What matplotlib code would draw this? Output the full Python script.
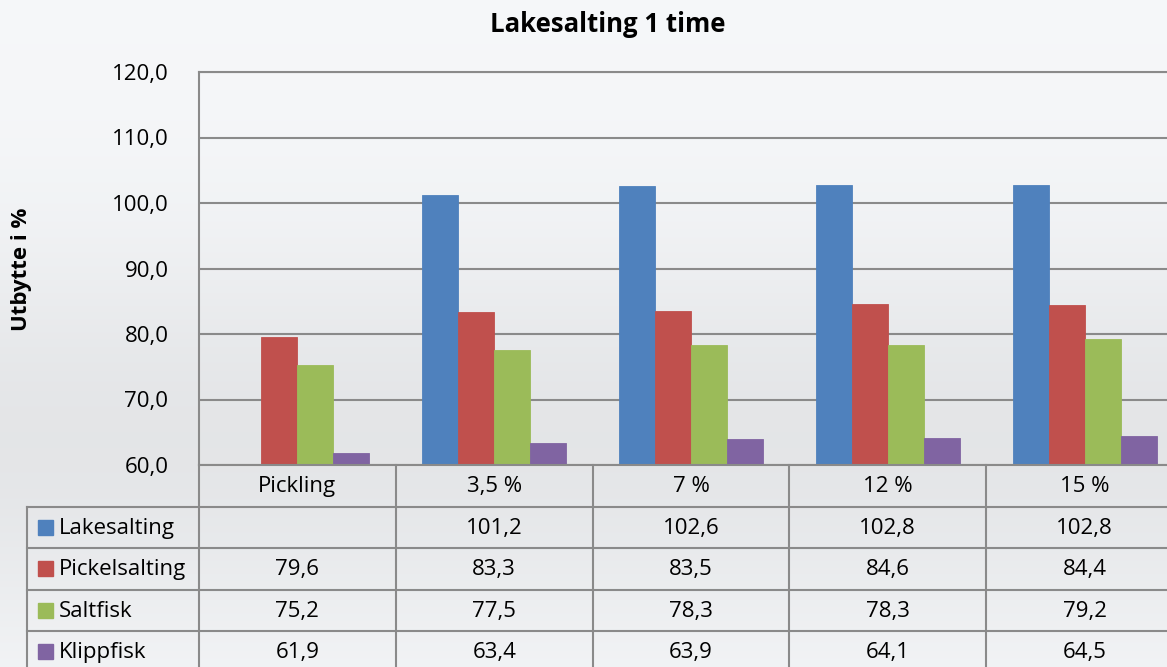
import numpy as np
import matplotlib.pyplot as plt
from matplotlib.patches import Rectangle

## data
categories = ['Pickling', '3,5 %', '7 %', '12 %', '15 %']
series_names = ['Lakesalting', 'Pickelsalting', 'Saltfisk', 'Klippfisk']
lakesalting = [np.nan, 101.2, 102.6, 102.8, 102.8]
pickelsalting = [79.6, 83.3, 83.5, 84.6, 84.4]
saltfisk = [75.2, 77.5, 78.3, 78.3, 79.2]
klippfisk = [61.9, 63.4, 63.9, 64.1, 64.5]
colors = ['#4F81BD', '#C0504D', '#9BBB59', '#8064A2']
yticks = [60, 70, 80, 90, 100, 110, 120]

values = [lakesalting, pickelsalting, saltfisk, klippfisk]

plt.rcParams['font.family'] = ['Open Sans', 'DejaVu Sans']

W, H = 1167, 667
fig = plt.figure(figsize=(W / 100, H / 100), dpi=100)

# soft grey background, lightest at the top, darkest a bit below the middle
bg = fig.add_axes([0, 0, 1, 1], zorder=-10)
grad = np.linspace(0, 1, 300)
shade = 0.972 - 0.07 * np.exp(-((grad - 0.66) / 0.3) ** 2)
img = np.stack([shade - 0.008, shade - 0.002, shade + 0.006], axis=-1)[:, None, :]
bg.imshow(np.clip(img, 0, 1), aspect='auto', extent=[0, 1, 0, 1])
bg.axis('off')

grid_col = '#8a8a8a'
x_right = 1183  # plot area runs past the right edge of the picture
ax = fig.add_axes([199 / W, 1 - 465 / H, (x_right - 199) / W, (465 - 72) / H])
ax.patch.set_alpha(0)

x = np.arange(len(categories))
bw = 0.183
for i, (vals, c) in enumerate(zip(values, colors)):
    ax.bar(x + (i - 1.5) * bw, np.array(vals) - 60, bw, bottom=60, color=c,
           edgecolor=c, linewidth=0.6, zorder=3)

ax.set_xlim(-0.5, 4.5)
ax.set_ylim(60, 120)
ax.set_yticks(yticks)
ax.set_yticklabels([('%.1f' % t).replace('.', ',') for t in yticks], fontsize=16)
ax.tick_params(axis='y', length=0, pad=22)
ax.set_xticks([])
ax.grid(axis='y', color=grid_col, linewidth=1.5, zorder=1)
for s in ['right', 'bottom']:
    ax.spines[s].set_visible(False)
for s in ['left', 'top']:
    ax.spines[s].set_color(grid_col)
    ax.spines[s].set_linewidth(1.5)

fig.text(608 / W, 1 - 25 / H, 'Lakesalting 1 time', ha='center', va='center',
         fontsize=18.5, fontweight='bold')
fig.text(22 / W, 1 - 269 / H, 'Utbytte i %', ha='center', va='center',
         rotation=90, fontsize=16, fontweight='bold')

# data table under the plot
row_h = 41.5
n_rows = 5
left_px = 27
tab = fig.add_axes([left_px / W, 1 - (465 + n_rows * row_h) / H,
                    (x_right - left_px) / W, n_rows * row_h / H])
tab.patch.set_alpha(0)
tab.axis('off')
cat_px = (x_right - 199) / 5
x_left = -0.5 - (199 - left_px) / cat_px
tab.set_xlim(x_left, 4.5)
tab.set_ylim(n_rows, 0)

lw = 1.5
tab.plot([-0.5, 4.5], [0, 0], color=grid_col, lw=lw, clip_on=False)
for r in range(1, n_rows + 1):
    tab.plot([x_left, 4.5], [r, r], color=grid_col, lw=lw, clip_on=False)
tab.plot([x_left, x_left], [1, n_rows], color=grid_col, lw=lw, clip_on=False)
for b in np.arange(-0.5, 4.6, 1.0):
    tab.plot([b, b], [0, n_rows], color=grid_col, lw=lw, clip_on=False)

for j, cat in enumerate(categories):
    tab.text(j, 0.52, cat, ha='center', va='center', fontsize=16)

key = 15 / cat_px
for i, (name, vals, c) in enumerate(zip(series_names, values, colors)):
    r = i + 1
    tab.add_patch(Rectangle((x_left + 11 / cat_px, r + 0.5 - 0.18), key, 0.36,
                            color=c, clip_on=False))
    tab.text(x_left + 32 / cat_px, r + 0.52, name, ha='left', va='center', fontsize=16)
    for j, v in enumerate(vals):
        if not np.isnan(v):
            tab.text(j, r + 0.52, ('%.1f' % v).replace('.', ','), ha='center',
                     va='center', fontsize=16)

fig.savefig('out.png', dpi=100)
